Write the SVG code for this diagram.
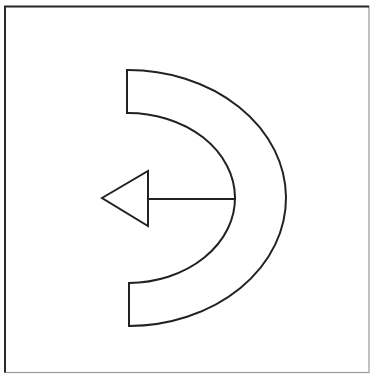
<svg xmlns="http://www.w3.org/2000/svg" width="371" height="374" viewBox="0 0 371 374">
  <style>
    .shape { fill: #ffffff; stroke: #222222; stroke-width: 2; stroke-linejoin: miter; }
    .line { fill: none; stroke: #222222; stroke-width: 2; }
  </style>
  <rect x="0" y="0" width="371" height="374" fill="#ffffff"/>
  <g id="frame">
    <rect x="5" y="6.5" width="364" height="366" fill="none" stroke="#9a9a9a" stroke-width="1.2"/>
    <path d="M5,372.5 V6.5 H369" fill="none" stroke="#2a2a2a" stroke-width="2"/>
  </g>
  <g id="arc-band">
    <path class="shape" d="M127,70 A158,128 0 0 1 129,326 L129,283 A107,85 0 0 0 127,113 Z"/>
  </g>
  <g id="connectors">
    <line class="line" x1="148" y1="199" x2="236" y2="199"/>
  </g>
  <g id="arrowhead">
    <polygon class="shape" points="102,198 148,171 148,226"/>
  </g>
</svg>
